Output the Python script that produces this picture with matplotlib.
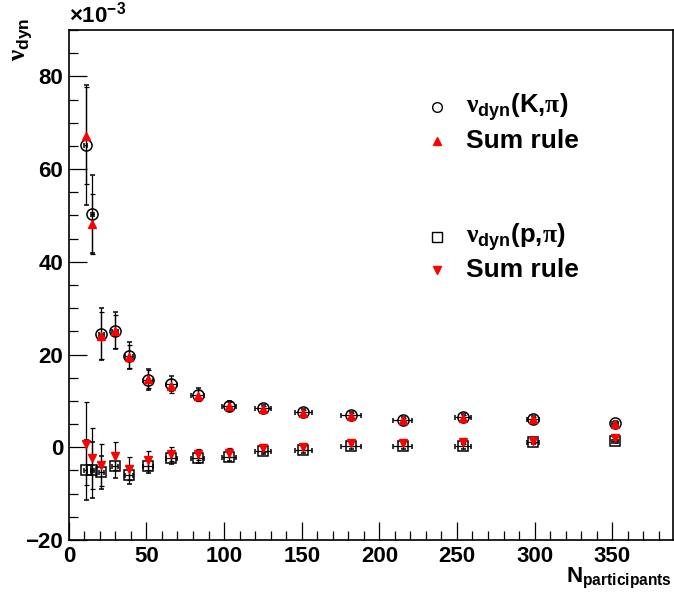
import matplotlib
matplotlib.use("Agg")
import matplotlib.pyplot as plt
import numpy as np

plt.rcParams.update({
    'font.family': 'Liberation Sans',
    'font.weight': 'bold',
    'mathtext.fontset': 'custom',
    'mathtext.rm': 'Liberation Sans:bold',
    'mathtext.bf': 'Liberation Sans:bold',
    'mathtext.it': 'Liberation Sans:bold',
    'mathtext.sf': 'Liberation Serif',
})

# centrality bins (N_participants) and their widths
npart = [11, 15, 21, 30, 39, 51, 66, 83, 103, 125, 151, 182, 215, 254, 299, 352]
npart_err = [1, 1, 1.5, 2, 2.5, 3, 3.5, 4, 4.5, 5, 5.5, 6.5, 6, 5, 4, 2]

# nu_dyn(K,pi) x 10^-3 and sum rule prediction
nu_kpi = [65.2, 50.3, 24.4, 25.1, 19.7, 14.6, 13.7, 11.3, 9.0, 8.4, 7.6, 6.9, 5.9, 6.5, 6.2, 5.2]
nu_kpi_err = [13, 8.5, 5.6, 4, 2.9, 2.3, 1.6, 1.4, 1.0, 0.8, 0.7, 0.6, 0.6, 0.6, 0.5, 0.4]
sum_kpi = [67.2, 48.1, 24.1, 25.0, 19.5, 14.7, 13.3, 11.1, 8.8, 8.2, 7.4, 6.8, 5.9, 6.4, 6.0, 5.1]
sum_kpi_err = [10.5, 6.5, 5, 3.5, 2.5, 2, 1.5, 1.2, 0.9, 0.7, 0.6, 0.5, 0.5, 0.5, 0.5, 0.4]

# nu_dyn(p,pi) x 10^-3 and sum rule prediction
nu_ppi = [-4.9, -4.9, -5.4, -4.1, -6.0, -4.1, -2.4, -2.4, -2.1, -0.8, -0.6, 0.2, 0.2, 0.2, 1.1, 1.4]
nu_ppi_err = [6.5, 6, 3.5, 2.5, 2, 1.5, 1.2, 1, 0.8, 0.7, 0.6, 0.5, 0.5, 0.5, 0.4, 0.4]
sum_ppi = [0.8, -2.4, -3.9, -1.9, -4.6, -2.8, -1.5, -1.5, -1.2, -0.15, 0.05, 0.9, 0.9, 1.1, 1.4, 1.9]
sum_ppi_err = [9, 6.5, 4.5, 3, 2.5, 2, 1.5, 1.2, 1, 0.8, 0.7, 0.6, 0.6, 0.5, 0.5, 0.4]

fig = plt.figure(figsize=(6.74, 5.96), dpi=100)
ax = fig.add_axes([0.1021, 0.094, 0.8961, 0.8557])

eb = dict(ecolor='black', elinewidth=0.9, capsize=1.8, capthick=0.9, linestyle='none')
ax.errorbar(npart, nu_kpi, xerr=npart_err, yerr=nu_kpi_err, marker='o', ms=8,
            mfc='none', mec='black', mew=1.1, zorder=2, **eb)
ax.errorbar(npart, nu_ppi, xerr=npart_err, yerr=nu_ppi_err, marker='s', ms=7.5,
            mfc='none', mec='black', mew=1.1, zorder=2, **eb)
ax.errorbar(npart, sum_kpi, yerr=sum_kpi_err, marker='^', ms=6, mfc='red', mec='red',
            zorder=3, **eb)
ax.errorbar(npart, sum_ppi, yerr=sum_ppi_err, marker='v', ms=6, mfc='red', mec='red',
            zorder=3, **eb)

ax.set_xlim(0, 389)
ax.set_ylim(-20, 90)
ax.set_xticks(np.arange(0, 351, 50))
ax.set_xticks(np.arange(0, 390, 10), minor=True)
ax.set_yticks(np.arange(-20, 81, 20))
ax.set_yticks(np.arange(-20, 91, 5), minor=True)
ax.tick_params(which='both', direction='in', top=False, right=False, width=0.9,
               labelsize=16)
ax.tick_params(which='major', length=13, pad=4)
ax.tick_params(which='minor', length=6.5)
for s in ax.spines.values():
    s.set_linewidth(1.2)

nu = r'$\mathsf{\nu}_{\mathbf{dyn}}$'
pi = r'$\mathsf{\pi}$'

# legend entries
tx = 0.657
mx = 0.61
ax.plot(mx, 0.849, 'o', ms=7, mfc='none', mec='black', mew=1, transform=ax.transAxes, clip_on=False)
ax.text(tx, 0.849, nu + '(K,' + pi + ')', transform=ax.transAxes, fontsize=18.5,
        va='center', ha='left')
ax.plot(mx, 0.782, '^', ms=5.5, color='red', transform=ax.transAxes, clip_on=False)
ax.text(tx, 0.782, 'Sum rule', transform=ax.transAxes, fontsize=19, va='center', ha='left')
ax.plot(mx, 0.594, 's', ms=7, mfc='none', mec='black', mew=1, transform=ax.transAxes, clip_on=False)
ax.text(tx, 0.594, nu + '(p,' + pi + ')', transform=ax.transAxes, fontsize=18.5,
        va='center', ha='left')
ax.plot(mx, 0.529, 'v', ms=5.5, color='red', transform=ax.transAxes, clip_on=False)
ax.text(tx, 0.529, 'Sum rule', transform=ax.transAxes, fontsize=19, va='center', ha='left')

# axis titles
fig.text(22 / 674, 1 - 18 / 596, nu, rotation=90, fontsize=18,
         ha='center', va='top')
fig.text(1 - 2 / 674, 1 - 578 / 596, r'N$_{\mathbf{participants}}$', fontsize=16,
         ha='right', va='center')
ax.text(0.0, 1.005, r'$\times$10$^{\mathbf{-3}}$', transform=ax.transAxes, fontsize=16,
        ha='left', va='bottom')

fig.savefig('out.png', dpi=100)
